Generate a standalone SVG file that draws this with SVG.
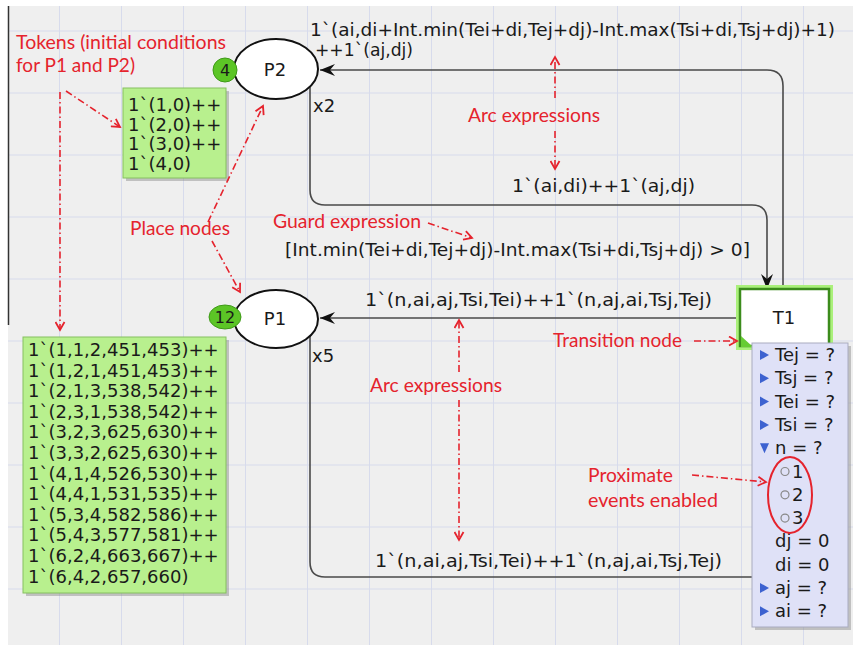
<svg xmlns="http://www.w3.org/2000/svg" width="853" height="645" viewBox="0 0 853 645">
<defs>
<style>
.t{font-family:"DejaVu Sans",Verdana,sans-serif;font-size:18px;fill:#1a1a1a}
.r{font-family:Lato,"Open Sans",sans-serif;font-size:19px;fill:#e5232d}
.arc{fill:none;stroke:#4a4a4a;stroke-width:1.6}
.ann{fill:none;stroke:#e5232d;stroke-width:1.6;stroke-dasharray:7 3 1.5 3}
.tok{fill:#b8f08e;stroke:#86c060;stroke-width:1}
.sh{fill:#888;opacity:0.45}
.tri{fill:#3d62d0}
</style>
<marker id="ah" viewBox="0 0 15 12" refX="15" refY="6" markerWidth="15" markerHeight="12" markerUnits="userSpaceOnUse" orient="auto">
<path d="M0,0 L15,6 L0,12 L5,6 z" fill="#111"/>
</marker>
<marker id="rh" viewBox="-1 -1 11 11" refX="8" refY="4.5" markerWidth="11" markerHeight="11" markerUnits="userSpaceOnUse" orient="auto-start-reverse">
<path d="M0,0 L8,4.5 L0,9" fill="none" stroke="#e5232d" stroke-width="1.8"/>
</marker>
</defs>

<rect x="0" y="0" width="853" height="645" fill="#ffffff"/>
<rect x="8" y="6" width="845" height="639" fill="#efefef"/>
<path stroke="#d7dbec" stroke-width="1" fill="none" d="M59.5 6V645M121.5 6V645M183.5 6V645M245.5 6V645M307.5 6V645M369.5 6V645M431.5 6V645M493.5 6V645M555.5 6V645M617.5 6V645M679.5 6V645M741.5 6V645M803.5 6V645M8 31H853M8 93H853M8 155H853M8 217H853M8 279H853M8 341H853M8 403H853M8 465H853M8 527H853M8 589H853"/>
<line x1="8.5" y1="6" x2="8.5" y2="325" stroke="#333" stroke-width="1.5"/>

<g id="connectors">
<path class="arc" d="M783 289 L783 86 Q783 70 767 70 L320 70" marker-end="url(#ah)"/>
<path class="arc" d="M310 87 L310 190 Q310 205 325 205 L752 205 Q767 205 767 220 L767 289" marker-end="url(#ah)"/>
<path class="arc" d="M740 318 L320 318" marker-end="url(#ah)"/>
<path class="arc" d="M310 336 L310 562 Q310 577 325 577 L760 577"/>
</g>

<g id="arc-labels">
<text class="t" x="310" y="36" textLength="525" lengthAdjust="spacingAndGlyphs">1`(ai,di+Int.min(Tei+di,Tej+dj)-Int.max(Tsi+di,Tsj+dj)+1)</text>
<text class="t" x="315" y="56" textLength="98" lengthAdjust="spacingAndGlyphs">++1`(aj,dj)</text>
<text class="t" x="313" y="112">x2</text>
<text class="t" x="512" y="192" textLength="183" lengthAdjust="spacingAndGlyphs">1`(ai,di)++1`(aj,dj)</text>
<text class="t" x="285" y="256" textLength="465" lengthAdjust="spacingAndGlyphs">[Int.min(Tei+di,Tej+dj)-Int.max(Tsi+di,Tsj+dj) &gt; 0]</text>
<text class="t" x="365" y="306" textLength="347" lengthAdjust="spacingAndGlyphs">1`(n,ai,aj,Tsi,Tei)++1`(n,aj,ai,Tsj,Tej)</text>
<text class="t" x="312" y="362">x5</text>
<text class="t" x="375" y="567" textLength="347" lengthAdjust="spacingAndGlyphs">1`(n,ai,aj,Tsi,Tei)++1`(n,aj,ai,Tsj,Tej)</text>
</g>

<g id="P2">
<ellipse cx="276" cy="69" rx="42" ry="30" fill="#fff" stroke="#111" stroke-width="2"/>
<text class="t" x="275" y="76" text-anchor="middle">P2</text>
<circle cx="225" cy="70" r="12" fill="#5cc526" stroke="#3f9a18" stroke-width="1"/>
<text class="t" x="225" y="76" text-anchor="middle" style="font-size:16px">4</text>
</g>

<g id="P2-tokens">
<rect class="sh" x="126" y="91" width="103" height="90"/>
<rect class="tok" x="123" y="88" width="103" height="90"/>
<text class="t" x="128" y="111">1`(1,0)++</text>
<text class="t" x="128" y="130.5">1`(2,0)++</text>
<text class="t" x="128" y="150">1`(3,0)++</text>
<text class="t" x="128" y="169.5">1`(4,0)</text>
</g>

<g id="P1">
<ellipse cx="276" cy="319" rx="42" ry="29" fill="#fff" stroke="#111" stroke-width="2"/>
<text class="t" x="275" y="325" text-anchor="middle">P1</text>
<ellipse cx="225" cy="317" rx="16" ry="12" fill="#5cc526" stroke="#3f9a18" stroke-width="1"/>
<text class="t" x="225" y="323" text-anchor="middle" style="font-size:16px">12</text>
</g>

<g id="P1-tokens">
<rect class="sh" x="26" y="340" width="203" height="256"/>
<rect class="tok" x="23" y="337" width="203" height="256"/>
<text class="t" x="28" y="356">1`(1,1,2,451,453)++</text>
<text class="t" x="28" y="376.6">1`(1,2,1,451,453)++</text>
<text class="t" x="28" y="397.2">1`(2,1,3,538,542)++</text>
<text class="t" x="28" y="417.8">1`(2,3,1,538,542)++</text>
<text class="t" x="28" y="438.4">1`(3,2,3,625,630)++</text>
<text class="t" x="28" y="459">1`(3,3,2,625,630)++</text>
<text class="t" x="28" y="479.6">1`(4,1,4,526,530)++</text>
<text class="t" x="28" y="500.2">1`(4,4,1,531,535)++</text>
<text class="t" x="28" y="520.8">1`(5,3,4,582,586)++</text>
<text class="t" x="28" y="541.4">1`(5,4,3,577,581)++</text>
<text class="t" x="28" y="562">1`(6,2,4,663,667)++</text>
<text class="t" x="28" y="582.6">1`(6,4,2,657,660)</text>
</g>

<g id="T1">
<rect x="740" y="289" width="89" height="57" fill="none" stroke="#aaf07a" stroke-width="8"/>
<rect x="740" y="289" width="89" height="57" fill="#fff" stroke="#3c8c1c" stroke-width="2.5"/>
<polygon points="741,336 753,347 741,347" fill="#66cc33"/>
<text class="t" x="784" y="324" text-anchor="middle">T1</text>
</g>

<g id="T1-bindings">
<rect class="sh" x="755" y="346" width="96" height="284"/>
<rect x="752" y="343" width="96" height="284" fill="#dfe1f7" stroke="#a9abc0" stroke-width="1"/>
<polygon class="tri" points="760,350 769,355 760,360"/>
<text class="t" x="775" y="361">Tej = ?</text>
<polygon class="tri" points="760,373.3 769,378.3 760,383.3"/>
<text class="t" x="775" y="384.3">Tsj = ?</text>
<polygon class="tri" points="760,396.6 769,401.6 760,406.6"/>
<text class="t" x="775" y="407.6">Tei = ?</text>
<polygon class="tri" points="760,419.9 769,424.9 760,429.9"/>
<text class="t" x="775" y="430.9">Tsi = ?</text>
<polygon class="tri" points="760,443.2 769,443.2 764.5,453.2"/>
<text class="t" x="775" y="454.2">n = ?</text>
<circle cx="785" cy="471.5" r="4" fill="none" stroke="#888" stroke-width="1.2"/>
<text class="t" x="792" y="477.5">1</text>
<circle cx="785" cy="494.8" r="4" fill="none" stroke="#888" stroke-width="1.2"/>
<text class="t" x="792" y="500.8">2</text>
<circle cx="785" cy="518.1" r="4" fill="none" stroke="#888" stroke-width="1.2"/>
<text class="t" x="792" y="524.1">3</text>
<text class="t" x="775" y="547.4">dj = 0</text>
<text class="t" x="775" y="570.7">di = 0</text>
<polygon class="tri" points="760,583 769,588 760,593"/>
<text class="t" x="775" y="594">aj = ?</text>
<polygon class="tri" points="760,606.3 769,611.3 760,616.3"/>
<text class="t" x="775" y="617.3">ai = ?</text>
</g>

<g id="annotations">
<text class="r" x="16" y="49" textLength="210" lengthAdjust="spacingAndGlyphs">Tokens (initial conditions</text>
<text class="r" x="16" y="72" textLength="119" lengthAdjust="spacingAndGlyphs">for P1 and P2)</text>
<text class="r" x="468" y="122" textLength="132" lengthAdjust="spacingAndGlyphs">Arc expressions</text>
<text class="r" x="273" y="228" textLength="148" lengthAdjust="spacingAndGlyphs">Guard expression</text>
<text class="r" x="130" y="235" textLength="100" lengthAdjust="spacingAndGlyphs">Place nodes</text>
<text class="r" x="553" y="347" textLength="129" lengthAdjust="spacingAndGlyphs">Transition node</text>
<text class="r" x="370" y="392" textLength="132" lengthAdjust="spacingAndGlyphs">Arc expressions</text>
<text class="r" x="588" y="482" textLength="85" lengthAdjust="spacingAndGlyphs">Proximate</text>
<text class="r" x="588" y="507" textLength="130" lengthAdjust="spacingAndGlyphs">events enabled</text>
<line class="ann" x1="60" y1="92" x2="60" y2="330" marker-end="url(#rh)"/>
<line class="ann" x1="66" y1="91" x2="120" y2="127" marker-end="url(#rh)"/>
<line class="ann" x1="208" y1="222" x2="263" y2="106" marker-end="url(#rh)"/>
<line class="ann" x1="212" y1="241" x2="240" y2="292" marker-end="url(#rh)"/>
<line class="ann" x1="555" y1="98" x2="555" y2="57" marker-end="url(#rh)"/>
<line class="ann" x1="555" y1="131" x2="555" y2="169" marker-end="url(#rh)"/>
<line class="ann" x1="428" y1="223" x2="472" y2="238" marker-end="url(#rh)"/>
<line class="ann" x1="459" y1="372" x2="459" y2="320" marker-end="url(#rh)"/>
<line class="ann" x1="459" y1="400" x2="459" y2="540" marker-end="url(#rh)"/>
<line class="ann" x1="694" y1="341" x2="737" y2="341" marker-end="url(#rh)"/>
<line class="ann" x1="692" y1="475" x2="766" y2="482" marker-end="url(#rh)"/>
<ellipse cx="790" cy="495" rx="22" ry="38" fill="none" stroke="#e5232d" stroke-width="2"/>
</g>
</svg>
